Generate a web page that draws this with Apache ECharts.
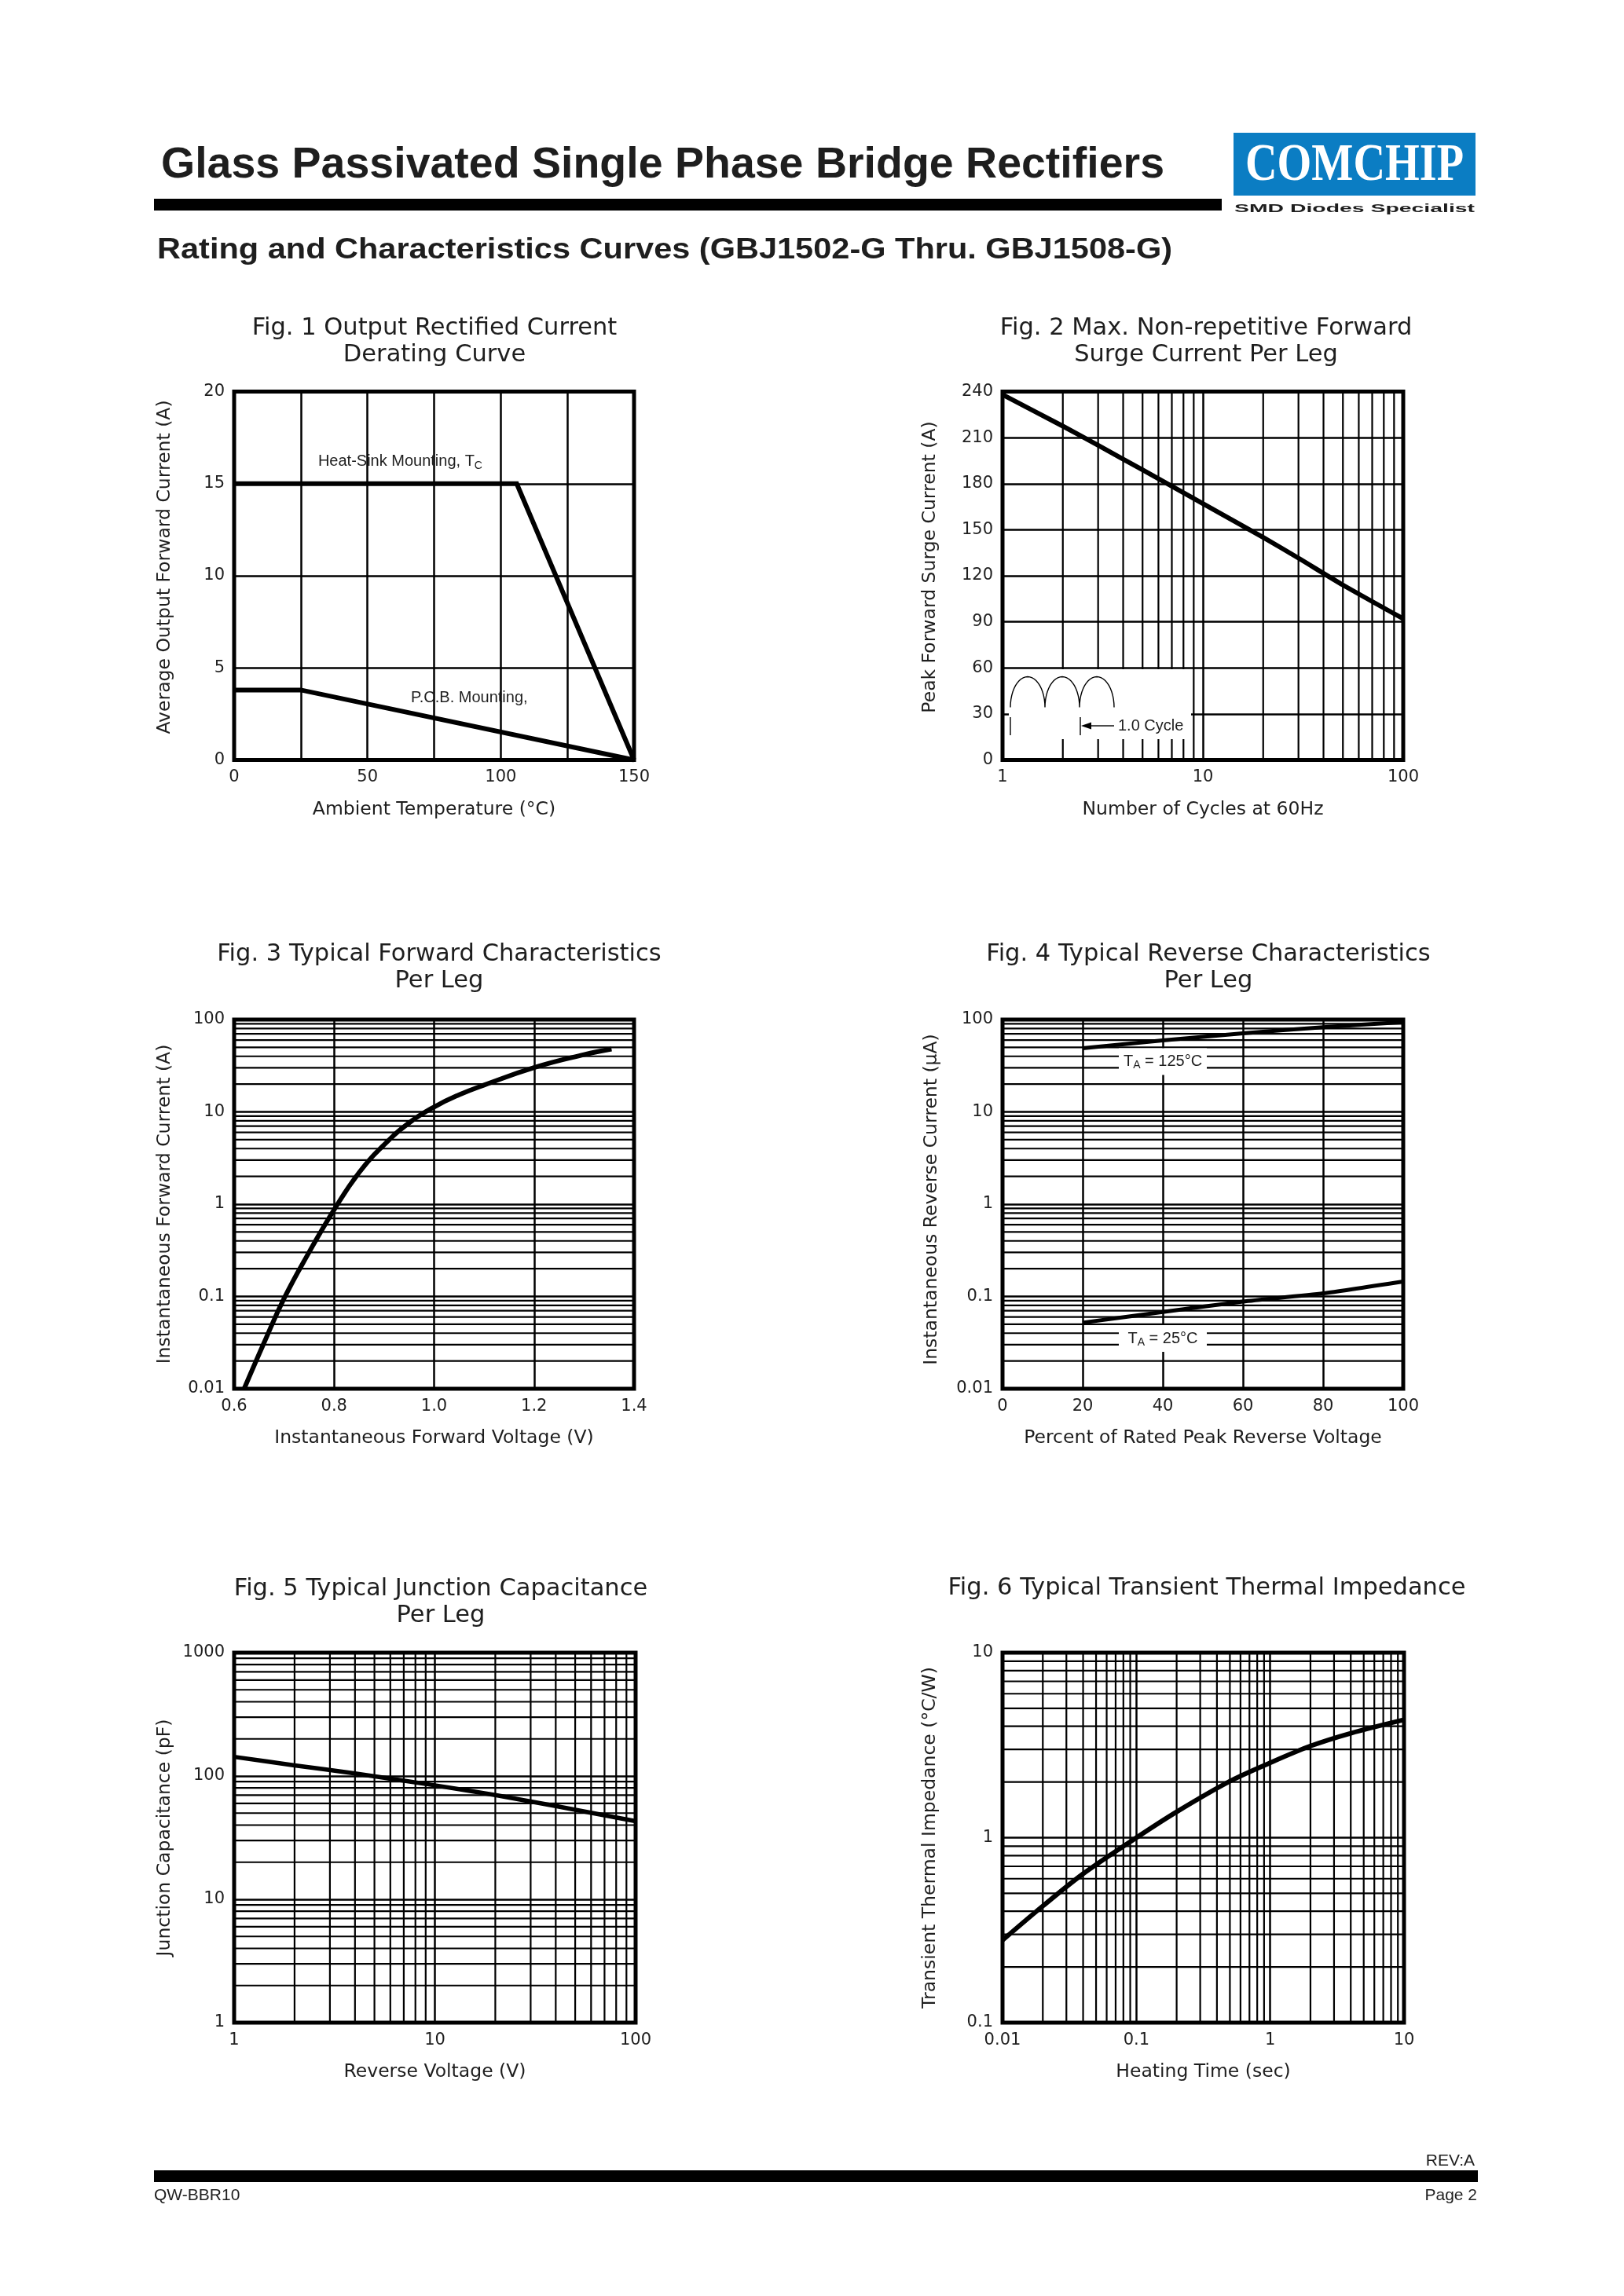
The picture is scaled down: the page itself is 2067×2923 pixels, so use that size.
<!DOCTYPE html>
<html><head><meta charset="utf-8">
<script src="https://cdn.jsdelivr.net/npm/echarts@6/dist/echarts.min.js"></script>
<style>html,body{margin:0;padding:0;background:#fff}#c{width:2067px;height:2923px}</style>
</head><body><div id="c"></div>
<script>
// ---------------- data ----------------
const fig1HeatSinkT = [0, 106, 150];
const fig1HeatSinkI = [15, 15, 0];
const fig1PcbT = [0, 25, 150];
const fig1PcbI = [3.8, 3.8, 0];

const fig2Cycles = [1, 2, 3, 5, 10, 20, 30, 50, 100];
const fig2Surge = [238, 217.5, 205, 189, 167, 145, 131.5, 114, 92];

const fig3Voltage = [0.62, 0.66, 0.70, 0.75, 0.80, 0.85, 0.90, 0.95, 1.0, 1.05, 1.1, 1.2, 1.3, 1.355];
const fig3Current = [0.01, 0.0316, 0.0955, 0.302, 0.871, 2.2, 4.4, 7.6, 11.3, 15.3, 19.5, 30.2, 41.7, 47.9];

const fig4Percent = [20, 40, 60, 80, 100];
const fig4Hot = [49, 59.5, 71, 82.5, 94];
const fig4Room = [0.052, 0.068, 0.088, 0.108, 0.145];

const fig5Voltage = [1, 2, 4, 10, 20, 40, 100];
const fig5Cap = [143, 122, 105, 84, 70, 57, 43];

const fig6Time = [0.01, 0.02, 0.04, 0.1, 0.2, 0.5, 1, 2, 4, 10];
const fig6Z = [0.279, 0.427, 0.638, 1.0, 1.38, 2.02, 2.54, 3.13, 3.67, 4.34];

const fig1XTicks = [0, 50, 100, 150];
const minorDigits = [2, 3, 4, 5, 6, 7, 8, 9];

const titles = [
  ['Fig. 1 Output Rectified Current', 'Derating Curve'],
  ['Fig. 2 Max. Non-repetitive Forward', 'Surge Current Per Leg'],
  ['Fig. 3 Typical Forward Characteristics', 'Per Leg'],
  ['Fig. 4 Typical Reverse Characteristics', 'Per Leg'],
  ['Fig. 5 Typical Junction Capacitance', 'Per Leg'],
  ['Fig. 6 Typical Transient Thermal Impedance']
];
const xNames = ['Ambient Temperature (°C)', 'Number of Cycles at 60Hz', 'Instantaneous Forward Voltage (V)',
  'Percent of Rated Peak Reverse Voltage', 'Reverse Voltage (V)', 'Heating Time (sec)'];
const yNames = ['Average Output Forward Current (A)', 'Peak Forward Surge Current (A)', 'Instantaneous Forward Current (A)',
  'Instantaneous Reverse Current (μA)', 'Junction Capacitance (pF)', 'Transient Thermal Impedance (°C/W)'];

// ---------------- helpers ----------------
const TXT = '#1e1e1e';
const AXF = 'DejaVu Sans';
const ANF = '"Liberation Sans", Arial, sans-serif';
const zip = (a, b) => a.map((v, i) => [v, b[i]]);
const logMinor = decades => { const out = []; decades.forEach(d => minorDigits.forEach(m => out.push(+(m * d).toPrecision(6)))); return out; };
const fmtLog = v => String(+(+v).toPrecision(6));

const grids = [
  {left: 298, top: 498.5, width: 509, height: 469},
  {left: 1276, top: 498.5, width: 510, height: 469},
  {left: 298, top: 1298, width: 509, height: 470},
  {left: 1276, top: 1298, width: 510, height: 470},
  {left: 298, top: 2104, width: 511, height: 471},
  {left: 1276, top: 2104, width: 511, height: 471}
].map(g => Object.assign({show: true, borderColor: '#000', borderWidth: 5, backgroundColor: 'rgba(0,0,0,0)',
  containLabel: false, outerBoundsMode: 'none'}, g));

function ax(o) {
  const base = {
    type: 'value', axisLine: {show: false}, axisTick: {show: false},
    splitLine: {show: true, lineStyle: {color: '#000', width: 2.5}},
    minorTick: {show: false}, minorSplitLine: {show: false},
    nameLocation: 'middle', nameMoveOverlap: false
  };
  const lbl = Object.assign({color: TXT, fontFamily: AXF, fontSize: 21, margin: 12}, o.axisLabel || {});
  const nts = Object.assign({color: TXT, fontFamily: AXF, fontSize: 23.5}, o.nameTextStyle || {});
  return Object.assign(base, o, {axisLabel: lbl, nameTextStyle: nts});
}

function gridLines(idx, dir, vals, ref) {
  return {
    type: 'custom', xAxisIndex: idx, yAxisIndex: idx, z: 1, silent: true, animation: false,
    data: vals.map(v => dir === 'v' ? [v, ref] : [ref, v]),
    renderItem(params, api) {
      const cs = params.coordSys;
      const p = api.coord([api.value(0), api.value(1)]);
      if (dir === 'v') return {type: 'line', shape: {x1: p[0], y1: cs.y, x2: p[0], y2: cs.y + cs.height}, style: {stroke: '#000', lineWidth: 2.2}};
      return {type: 'line', shape: {x1: cs.x, y1: p[1], x2: cs.x + cs.width, y2: p[1]}, style: {stroke: '#000', lineWidth: 2.2}};
    }
  };
}
function curve(idx, data, width, smooth) {
  return {type: 'line', xAxisIndex: idx, yAxisIndex: idx, z: 3, data, symbol: 'none', smooth: smooth || false,
    lineStyle: {color: '#000', width, cap: 'butt', join: 'miter'}, silent: true, clip: true};
}

const XG = 51;
const option = {
  animation: false,
  backgroundColor: '#fff',
  grid: grids,
  xAxis: [
    ax({gridIndex: 0, min: 0, max: 150, interval: 25, name: xNames[0], nameGap: XG,
      axisLabel: {formatter: v => fig1XTicks.indexOf(v) >= 0 ? String(v) : ''}}),
    ax({gridIndex: 1, type: 'log', logBase: 10, min: 1, max: 100, name: xNames[1], nameGap: XG, axisLabel: {formatter: fmtLog}}),
    ax({gridIndex: 2, min: 0.6, max: 1.4, interval: 0.2, name: xNames[2], nameGap: XG, axisLabel: {formatter: v => (+v).toFixed(1)}}),
    ax({gridIndex: 3, min: 0, max: 100, interval: 20, name: xNames[3], nameGap: XG}),
    ax({gridIndex: 4, type: 'log', logBase: 10, min: 1, max: 100, name: xNames[4], nameGap: XG, axisLabel: {formatter: fmtLog}}),
    ax({gridIndex: 5, type: 'log', logBase: 10, min: 0.01, max: 10, name: xNames[5], nameGap: XG, axisLabel: {formatter: fmtLog}})
  ],
  yAxis: [
    ax({gridIndex: 0, min: 0, max: 20, interval: 5, name: yNames[0], nameGap: 76, nameTextStyle: {padding: [0, 0, 0, 22]}}),
    ax({gridIndex: 1, min: 0, max: 240, interval: 30, name: yNames[1], nameGap: 80, nameTextStyle: {padding: [0, 0, 0, 22]}}),
    ax({gridIndex: 2, type: 'log', logBase: 10, min: 0.01, max: 100, name: yNames[2], nameGap: 76, axisLabel: {formatter: fmtLog}}),
    ax({gridIndex: 3, type: 'log', logBase: 10, min: 0.01, max: 100, name: yNames[3], nameGap: 78, axisLabel: {formatter: fmtLog}, nameTextStyle: {padding: [0, 0, 0, 12]}}),
    ax({gridIndex: 4, type: 'log', logBase: 10, min: 1, max: 1000, name: yNames[4], nameGap: 76, axisLabel: {formatter: fmtLog}}),
    ax({gridIndex: 5, type: 'log', logBase: 10, min: 0.1, max: 10, name: yNames[5], nameGap: 80, axisLabel: {formatter: fmtLog}})
  ],
  series: [
    gridLines(1, 'v', logMinor([1, 10]), 120),
    gridLines(2, 'h', logMinor([0.01, 0.1, 1, 10]), 1.0),
    gridLines(3, 'h', logMinor([0.01, 0.1, 1, 10]), 50),
    gridLines(4, 'v', logMinor([1, 10]), 10),
    gridLines(4, 'h', logMinor([1, 10, 100]), 10),
    gridLines(5, 'v', logMinor([0.01, 0.1, 1]), 1),
    gridLines(5, 'h', logMinor([0.1, 1]), 1),
    curve(0, zip(fig1HeatSinkT, fig1HeatSinkI), 6),
    curve(0, zip(fig1PcbT, fig1PcbI), 6),
    curve(1, zip(fig2Cycles, fig2Surge), 6, 0.2),
    curve(2, zip(fig3Voltage, fig3Current), 6, 0.45),
    curve(3, zip(fig4Percent, fig4Hot), 5, 0.2),
    curve(3, zip(fig4Percent, fig4Room), 5, 0.2),
    curve(4, zip(fig5Voltage, fig5Cap), 5.5, 0.2),
    curve(5, zip(fig6Time, fig6Z), 6, 0.3)
  ]
};

const chart = echarts.init(document.getElementById('c'), null, {renderer: 'canvas', width: 2067, height: 2923});
chart.setOption(option);

// ---------------- annotations / page text ----------------
const ctx = document.createElement('canvas').getContext('2d');
const tw = (font, s) => { ctx.font = font; return ctx.measureText(s).width; };
function txt(x, y, s, font, o) {
  o = o || {};
  const el = {type: 'text', x, y, z: o.z || 10, silent: true,
    style: {text: s, font, fill: o.fill || TXT, textAlign: o.align || 'left', textVerticalAlign: o.va || 'middle'}};
  if (o.scaleX) el.scaleX = o.scaleX;
  if (o.scaleY) el.scaleY = o.scaleY;
  return el;
}
function fitText(x, y, s, font, width, o) {
  o = Object.assign({}, o || {});
  o.scaleX = width / tw(font, s);
  return txt(x, y, s, font, o);
}
function compose(x, y, parts, align) {
  const fonts = parts.map(p => p.size + 'px ' + ANF);
  const widths = parts.map((p, i) => tw(fonts[i], p.s));
  const total = widths.reduce((a, b) => a + b, 0);
  let cx = align === 'center' ? x - total / 2 : x;
  return parts.map((p, i) => { const el = txt(cx, y + (p.dy || 0), p.s, fonts[i]); cx += widths[i]; return el; });
}
const P = (g, x, y) => chart.convertToPixel({gridIndex: g}, [x, y]);

const G = [];
// header
G.push(fitText(205, 211, 'Glass Passivated Single Phase Bridge Rectifiers', 'bold 55px ' + ANF, 1277));
G.push({type: 'rect', z: 10, silent: true, shape: {x: 196, y: 253, width: 1359, height: 15}, style: {fill: '#000'}});
G.push({type: 'rect', z: 10, silent: true, shape: {x: 1570, y: 169, width: 308, height: 80}, style: {fill: '#0b7dc3'}});
G.push(fitText(1724, 211, 'COMCHIP', 'bold 57px "Liberation Serif", serif', 278, {align: 'center', fill: '#fff', scaleY: 1.2, z: 11}));
G.push(fitText(1724, 266, 'SMD Diodes Specialist', 'bold 15px ' + ANF, 306, {align: 'center'}));
G.push(fitText(200, 319, 'Rating and Characteristics Curves (GBJ1502-G Thru. GBJ1508-G)', 'bold 36px ' + ANF, 1292));

// footer
G.push(txt(1877, 2751, 'REV:A', '21px ' + ANF, {align: 'right'}));
G.push({type: 'rect', z: 10, silent: true, shape: {x: 196, y: 2763, width: 1685, height: 15}, style: {fill: '#000'}});
G.push(txt(196, 2795, 'QW-BBR10', '21px ' + ANF));
G.push(txt(1880, 2795, 'Page 2', '21px ' + ANF, {align: 'right'}));

// chart titles
const titleX = [553, 1535, 559, 1538, 561, 1536];
const titleY = [418, 418, 1215, 1215, 2023, 2022];
titles.forEach((lines, i) => {
  lines.forEach((s, j) => G.push(txt(titleX[i], titleY[i] + j * 34, s, '30.5px "' + AXF + '"', {align: 'center'})));
});

// Fig 1 labels
let a = P(0, 31.5, 16.2);
G.push(...compose(a[0], a[1], [{s: 'Heat-Sink Mounting, T', size: 20}, {s: 'C', size: 14, dy: 6}], 'left'));
a = P(0, 66.3, 3.35);
G.push(...compose(a[0], a[1], [{s: 'P.C.B. Mounting,', size: 20}], 'left'));

// Fig 2 inset
const o = P(1, 1, 0);
G.push({type: 'rect', z: 1.5, silent: true, shape: {x: o[0] + 8, y: o[1] - 115.5, width: 232, height: 89}, style: {fill: '#fff'}});
const archPts = [];
for (let k = 0; k < 3; k++) {
  const x0 = o[0] + 10 + k * 44;
  for (let t = 0; t <= 24; t++) {
    const th = Math.PI * (1 - t / 24);
    archPts.push([x0 + 22 + 22 * Math.cos(th), o[1] - 67 - 39 * Math.sin(th)]);
  }
}
G.push({type: 'polyline', z: 5, silent: true, shape: {points: archPts}, style: {stroke: '#000', lineWidth: 1.4, fill: null}});
G.push({type: 'line', z: 5, silent: true, shape: {x1: o[0] + 10, y1: o[1] - 54.5, x2: o[0] + 10, y2: o[1] - 31.5}, style: {stroke: '#000', lineWidth: 1.4}});
G.push({type: 'line', z: 5, silent: true, shape: {x1: o[0] + 99, y1: o[1] - 54.5, x2: o[0] + 99, y2: o[1] - 31.5}, style: {stroke: '#000', lineWidth: 1.4}});
G.push({type: 'line', z: 5, silent: true, shape: {x1: o[0] + 142, y1: o[1] - 43.5, x2: o[0] + 110, y2: o[1] - 43.5}, style: {stroke: '#000', lineWidth: 1.4}});
G.push({type: 'polygon', z: 5, silent: true, shape: {points: [[o[0] + 100, o[1] - 43.5], [o[0] + 113, o[1] - 48], [o[0] + 113, o[1] - 39]]}, style: {fill: '#000'}});
G.push(txt(o[0] + 147, o[1] - 43.5, '1.0 Cycle', '20px ' + ANF));

// Fig 4 labels
[[35, '125°C'], [0.035, '25°C']].forEach(([yv, lab]) => {
  const c = P(3, 40, yv);
  G.push({type: 'rect', z: 1.5, silent: true, shape: {x: c[0] - 56, y: c[1] - 17, width: 112, height: 34}, style: {fill: '#fff'}});
  G.push(...compose(c[0], c[1], [{s: 'T', size: 20}, {s: 'A', size: 14, dy: 5}, {s: ' = ' + lab, size: 20}], 'center'));
});

chart.setOption({graphic: {elements: G}});
</script>
</body></html>
